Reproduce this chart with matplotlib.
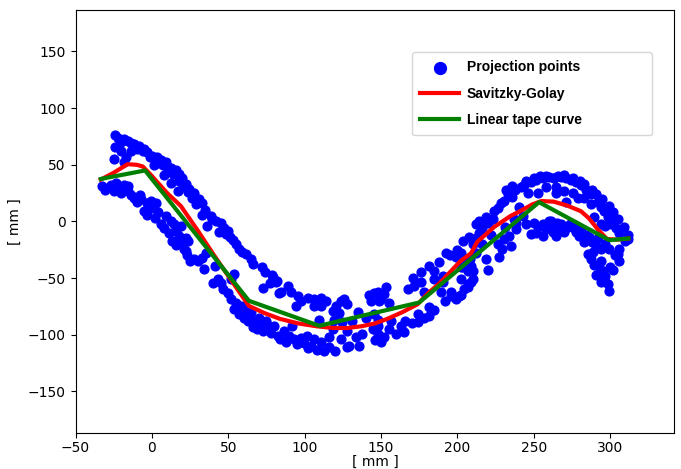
import matplotlib
matplotlib.use('Agg')
import matplotlib.pyplot as plt

# projection points (upper band / lower band per region)
proj_x = [
    # x -35..25
    -24, -22, -18.5, -16, -14, -12, -8.5, -5, -3, 0, 3, 6, 9, 12.5, 15.5, 17.5, 20, 21, 23.5,
    -24, -25, -17, -18, 1.5, 8, 12.5, 17,
    -33, -30.5, -27, -23.5, -21.5, -20.5, -18.5, -15.5, -14, -11.5, -8, -7, -3.5, -0.5, 2.5,
    -5, -3, 2, 6, 9, 12.5, 14.5, 15.5, 17.5, 19, 21, 23.5,
    -20, -10, -6, -1, 4, 7, 10, -14, -20, 14, 18, 22, 24,
    -25, -16, -10, 0, 4, 8, 11, 13, 16, 23, 25,
    # x 19..85
    19, 21, 24.5, 27.5, 30.5, 32.5, 32.5, 38.5, 39.5, 36, 45, 47, 49.5, 48.5, 53, 61.5, 65,
    66, 72, 74, 78.5, 77.5, 82, 73, 83.5,
    19, 22, 20, 22, 27.5, 30, 33, 34, 35.5, 41, 40, 43, 45, 46.5, 49.5, 51.5, 55, 54, 58,
    61.5, 64.5, 67, 71, 76.5, 54, 52,
    26, 29, 35, 42, 44, 51, 55, 57, 59,
    57, 60, 63, 66, 69, 73, 78, 84, 88, 95, 102, 108, 120, 60, 65, 70, 75,
    # x 78..150
    79, 81, 84.5, 89, 91, 95.5, 97.5, 94.5, 102.5, 106, 110.5, 106, 110.5, 109.5, 118.5,
    120.5, 124, 126, 122.5, 119.5, 124.5, 131, 142, 143.5, 145.5,
    80, 82.5, 86.5, 90, 92, 93, 97.5, 99.5, 101.5, 104, 106, 110.5, 116, 116, 118.5, 124,
    128, 129, 133.5, 135.5, 137.5, 144.5, 146, 148, 112.5, 127.5,
    114, 128, 135, 140, 150, 152, 155,
    # x 145..210
    148, 153, 149, 145.5, 148, 156.5, 163, 166, 165, 148, 152, 150, 174, 174.5, 181.5, 181.5,
    167.5, 171, 171.5, 176, 176, 181.5, 178, 184.5, 188, 190.5, 192.5, 190.5, 196, 199, 201,
    189.5, 202.5, 207, 209, 210, 203.5, 199, 208,
    155, 160, 170, 178, 185, 192, 196, 185, 195, 200, 214, 216, 210,
    # x 202..266
    204, 207.5, 212, 214, 218.5, 220, 223.5, 224, 226.5, 228.5, 230.5, 233, 236, 238, 241.5,
    243.5, 246, 248, 251.5, 252.5, 256, 258, 260, 263, 264.5, 240.5,
    202.5, 205.5, 202.5, 207, 209, 210, 207, 204.5, 202.5, 212, 218.5, 220, 227, 226.5, 229.5,
    235, 230.5, 233.5, 238.5, 238.5, 245, 248, 251.5, 256, 256, 260, 265.5, 264.5, 266.5,
    232, 236, 245, 250, 254, 258, 250, 253, 258, 262, 243, 237, 231, 222, 216, 212,
    # x 261..312
    263, 268, 271, 274.5, 277.5, 281, 284.5, 287.5, 292, 294, 296, 298.5, 300.5, 304, 306, 310,
    264.5, 270, 275.5, 279, 283, 287.5, 289.5, 294, 297, 302.5, 271,
    261.5, 262.5, 268, 272.5, 276.5, 270, 281, 279.5, 283, 286, 291, 289, 294, 299, 306, 285.5,
    287.5, 289.5, 294, 293, 295.5, 302, 296, 294, 298.5, 299.5, 305, 306, 311.5,
    266, 270, 276, 280, 283, 288, 291, 295, 299, 302, 305, 309, 312,
    268, 274, 278, 284, 288, 292, 297, 303, 300, 297, 291,
]
proj_y = [
    76, 74, 72.5, 71, 69.5, 68, 66.5, 64, 61, 58, 56.5, 54, 52.5, 47, 45, 42, 38, 30.5, 26,
    66, 55.5, 57, 52.5, 49.5, 41, 34, 27,
    31, 28, 32.5, 34, 29.5, 25, 32, 31, 23.5, 20.5, 23.5, 19.5, 16.5, 18, 16.5,
    9, 6, 3, -2.5, 4.5, 0, -2.5, -8.5, -13, -20, -24.5, -17,
    70, 64, 62, 57, 52, 50, 48, 62, 62, 42, 36, 33, 29,
    27, 27, 17, 12, 8, -6, -10, -17, -21, -30, -35,
    38.5, 32.5, 28, 25, 19.5, 16.5, 6, 4.5, 2, -4, -1, -5.5, -8.5, -11.5, -16, -29, -33.5,
    -37.5, -40.5, -45, -47, -54, -52.5, -58.5, -63,
    -4, -14.5, -20, -26, -33.5, -35, -32, -42, -27.5, -39.5, -54, -51, -54, -60, -63, -68.5,
    -71.5, -77.5, -74.5, -80.5, -84.5, -89, -90.5, -92, -46.5, -51,
    21, 15, 10, 0, -9, -14, -20, -24, -27,
    -82, -85, -88, -93, -95, -97, -98, -104, -106, -108, -112, -113, -114, -78, -80, -85, -88,
    -49, -53, -62.5, -57, -62.5, -66, -70.5, -74.5, -67.5, -68.5, -67.5, -74.5, -74.5, -86.5,
    -79, -74.5, -70.5, -68.5, -80.5, -86.5, -89, -87.5, -64.5, -70.5, -63,
    -92.5, -101, -97, -101, -92.5, -104, -102.5, -107, -101, -110, -104, -106.5, -102, -110.5,
    -95, -104, -96.5, -110, -102, -110, -99.5, -95, -105, -92.5, -114.5, -111,
    -70, -73, -80, -85, -68, -64, -72,
    -62.5, -58, -70.5, -82, -86.5, -88, -92.5, -88, -97.5, -99.5, -102, -106.5, -82, -89,
    -75.5, -83.5, -60, -49.5, -57, -45, -53.5, -39.5, -62.5, -51, -36, -48.5, -27.5, -53.5,
    -62.5, -68.5, -66, -62.5, -51, -58, -53, -44, -40.5, -31, -33.5,
    -95, -99, -90, -85, -78, -70, -66, -44, -30, -25, -10, -6, -20,
    -17.5, -14, -2.5, 0, 3.5, -1, 2, 9, 12, 16.5, 18, 24, 22, 28, 30, 32.5, 25.5, 34.5, 37,
    25.5, 38.5, 30, 39.5, 38.5, 25.5, 13,
    -27.5, -33.5, -40.5, -44, -39.5, -51, -55.5, -60, -64.5, -27.5, -33.5, -42.5, -31, -20,
    -24.5, -22, -15.5, -13, -7, -1, -2.5, -11.5, -10, -2.5, -13, 0, -1, -13, -8.5,
    28, 31, 36, 38, 40, 40, -1, -5, -7, -4, 5, 2, -5, -12, -20, -15,
    38.5, 39.5, 38.5, 37, 34.5, 32.5, 28, 24, 17.5, 13, 9, 3.5, -2.5, -5.5, -10, -17.5,
    30, 26.5, 25.5, 21, 21, 15, 3.5, -2.5, -4, 0, 17.5,
    0, -9, -2.5, -4.5, -5.5, -9.5, -7, -13, -18.5, -14, -22, -26.5, -24.5, -24.5, -24.5, -29,
    -33.5, -38, -35, -40.5, -44, -43, -51, -53, -55.5, -61.5, -29, -35, -15.5,
    40, 41, 38, 36, 33, 28, 24, 20, 14, 8, 2, -5, -12,
    -7, -2, -9, -12, -18, -15, -20, -30, -40, -48, -47,
]

# Savitzky-Golay smoothed curve
sg_x = [-33.5, -25, -16, -10, -6, -1, 10, 19, 30, 41, 52, 63.5, 74, 84, 96, 108, 119, 128,
        137, 146, 154, 164, 174, 181, 188, 195, 202, 209, 213, 224, 235, 241, 249, 255, 263,
        272, 281, 286, 292, 298, 305, 312]
sg_y = [37, 43, 50.5, 50, 48.5, 41.5, 25, 13.5, -8, -30.5, -52, -74.5, -81, -86, -90, -92.5,
        -94, -94, -92.5, -90, -86, -80, -73, -63, -55, -45, -35, -28, -18, -5, 5, 9, 15, 18,
        17.5, 14, 9, 3, -7, -15.5, -16, -15]

# linear tape curve
tape_x = [-33.5, -4.5, 63.5, 109.5, 175, 253.5, 299.5, 312]
tape_y = [37.5, 45, -70, -92, -71.5, 17, -16.5, -15]

fig = plt.figure(figsize=(6.81, 4.69), dpi=100)
ax = fig.add_axes([0.111, 0.0768, 0.879, 0.902])

ax.scatter(proj_x, proj_y, s=40, color='blue', label='Projection points', zorder=2)
ax.plot(sg_x, sg_y, color='red', lw=3, label='Savitzky-Golay', zorder=3)
ax.plot(tape_x, tape_y, color='green', lw=3, label='Linear tape curve', zorder=4)

ax.set_xlim(-50, 342)
ax.set_ylim(-186.6, 186.6)
ax.set_xticks([-50, 0, 50, 100, 150, 200, 250, 300])
ax.set_yticks([-150, -100, -50, 0, 50, 100, 150])
ax.tick_params(axis='x', pad=2)
ax.set_xlabel('[ mm ]', labelpad=0)
ax.set_ylabel('[ mm ]')

ax.legend(loc='upper left', bbox_to_anchor=(0.562, 0.698, 0.401, 0.203), mode='expand',
          borderaxespad=0,
          prop={'family': 'Liberation Sans', 'weight': 'bold', 'size': 10},
          markerscale=1.35, handlelength=2.8, handletextpad=0.55, labelspacing=0.9,
          borderpad=0.6)

fig.savefig('out.png', dpi=100)
